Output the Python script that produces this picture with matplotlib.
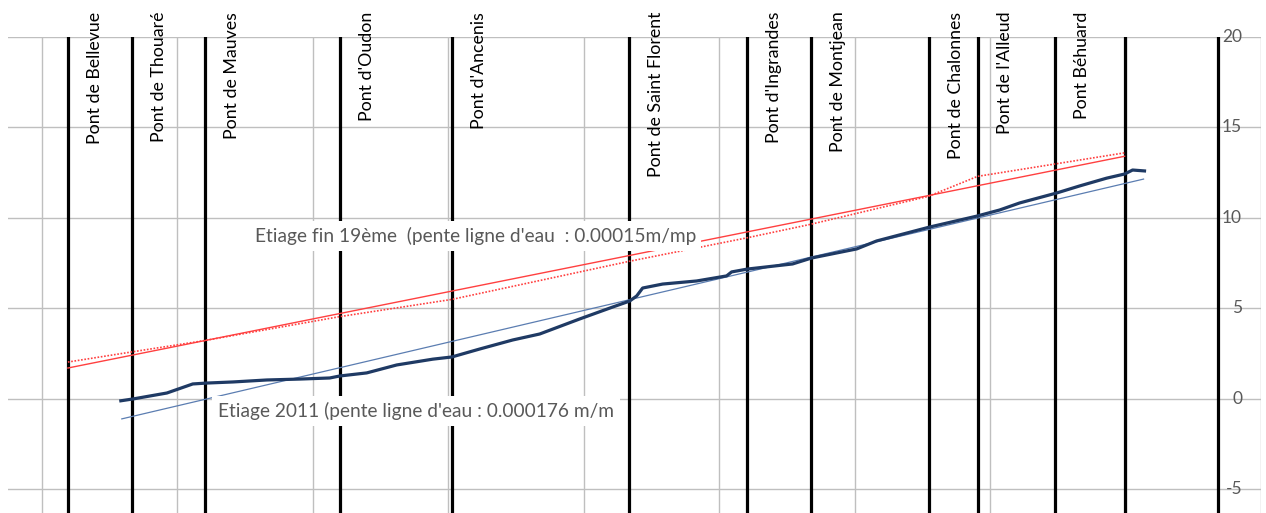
# Profil en long de la Loire - etiage fin 19eme et etiage 2011
import matplotlib
matplotlib.use('Agg')
import matplotlib.pyplot as plt

plt.rcParams['font.family'] = ['Lato', 'DejaVu Sans']

# Ponts (position en km)
ponts = ['Pont de Bellevue', 'Pont de Thouaré', 'Pont de Mauves', "Pont d'Oudon",
         "Pont d'Ancenis", 'Pont de Saint Florent', "Pont d'Ingrandes",
         'Pont de Montjean', 'Pont de Chalonnes', "Pont de l'Alleud", 'Pont Béhuard']
ponts_km = [1.92, 6.64, 12.03, 21.99, 30.26, 43.32, 52.03, 56.75, 65.46, 69.08, 74.76]
autres_km = [79.93, 86.86]

# Etiage fin 19eme : releves et droite de pente
e19_km = [1.92, 6.64, 12.03, 21.99, 30.26, 43.32, 52.03, 56.75, 65.46, 69.08, 74.76, 79.93]
e19_z = [2.04, 2.6, 3.23, 4.55, 5.5, 7.6, 8.9, 9.65, 11.2, 12.3, 12.98, 13.6]
e19_pente_km = [1.92, 79.93]
e19_pente_z = [1.71, 13.41]

# Etiage 2011 : releves et droite de pente
e2011_km = [5.83, 6.72, 9.23, 11.14, 12.18, 14.10, 16.61, 19.04, 21.25, 21.99, 23.98,
            26.20, 28.86, 30.26, 32.32, 34.76, 36.75, 39.70, 42.14, 43.39, 43.91, 44.35,
            45.83, 48.34, 50.55, 50.92, 52.10, 55.42, 56.83, 60.15, 61.62, 65.54, 69.00,
            70.70, 72.18, 74.91, 76.61, 78.60, 79.93, 80.52, 81.40]
e2011_z = [-0.1, 0.0, 0.33, 0.83, 0.88, 0.94, 1.05, 1.1, 1.16, 1.27, 1.44,
           1.88, 2.2, 2.32, 2.76, 3.26, 3.59, 4.42, 5.08, 5.41, 5.69, 6.13,
           6.35, 6.52, 6.8, 7.02, 7.18, 7.46, 7.79, 8.29, 8.73, 9.5, 10.1,
           10.44, 10.83, 11.38, 11.77, 12.2, 12.43, 12.65, 12.6]
e2011_pente_km = [5.9, 81.33]
e2011_pente_z = [-1.1, 12.15]

y_ticks = [-5, 0, 5, 10, 15, 20]

fig = plt.figure(figsize=(12.66, 5.13), dpi=100)
ax = fig.add_axes([8 / 1266, 0, 1253 / 1266, 476 / 513])
ax.set_xlim(-2.5, 90)
ax.set_ylim(-6.3, 20)

# grille
ax.set_xticks(range(0, 91, 10))
ax.set_yticks(y_ticks)
ax.grid(True, color='#bfbfbf', linewidth=1.0)
ax.tick_params(length=0, labelbottom=False, labelleft=False)
for s in ax.spines.values():
    s.set_visible(False)

# lignes des ponts
for km in ponts_km + autres_km:
    ax.axvline(km, color='black', linewidth=2.3, zorder=2)
for nom, km in zip(ponts, ponts_km):
    ax.text(km + 2.0, 21.4, nom, rotation=90, ha='center', va='top',
            fontsize=12.8, color='black', clip_on=False)

# graduations a droite
for v in y_ticks:
    ax.text(88.6, v, str(v), ha='right', va='center', fontsize=12.5, color='#595959', zorder=5)

ax.plot(e19_pente_km, e19_pente_z, color='#ff4040', linewidth=1.0, zorder=3)
ax.plot(e19_km, e19_z, color='#ff4040', linewidth=1.2, linestyle=(0, (1, 1)), zorder=3)
ax.plot(e2011_pente_km, e2011_pente_z, color='#5b7db1', linewidth=0.9, zorder=3)
ax.plot(e2011_km, e2011_z, color='#1f3a64', linewidth=2.3, zorder=4)

box = dict(facecolor='white', edgecolor='none', pad=4)
ax.text(15.7, 9.0, "Etiage fin 19ème  (pente ligne d'eau  : 0.00015m/mp", fontsize=13.8,
        color='#595959', ha='left', va='center', bbox=box, zorder=6)
ax.text(13.0, -0.66, "Etiage 2011 (pente ligne d'eau : 0.000176 m/m", fontsize=13.8,
        color='#595959', ha='left', va='center', bbox=box, zorder=6)

fig.savefig('out.png', dpi=100)
